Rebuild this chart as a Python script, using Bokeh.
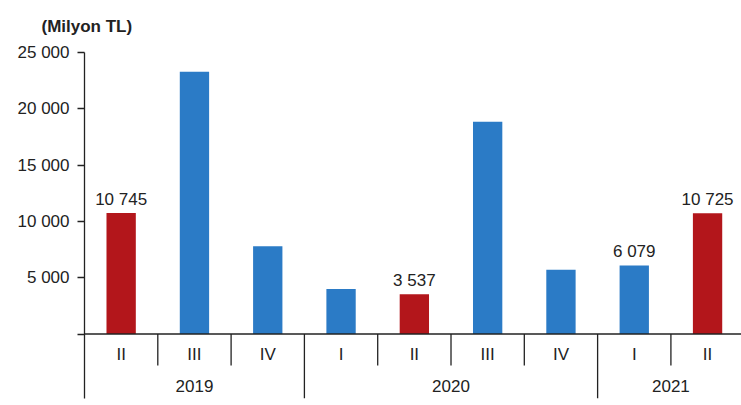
from bokeh.plotting import figure
from bokeh.models import Range1d, FixedTicker, ColumnDataSource
from bokeh.core.properties import value
from bokeh.embed import file_html
from bokeh.resources import INLINE

# ---- data ----
quarters = ["II", "III", "IV", "I", "II", "III", "IV", "I", "II"]
values = [10745, 23300, 7800, 4000, 3537, 18850, 5700, 6079, 10725]
labeled = [True, False, False, False, True, False, False, True, True]
years = ["2019", "2020", "2021"]
year_counts = [3, 4, 2]
y_ticks = [0, 5000, 10000, 15000, 20000, 25000]
y_tick_labels = ["", "5 000", "10 000", "15 000", "20 000", "25 000"]
unit_title = "(Milyon TL)"

BLUE = "#2B7BC6"
RED = "#B3161B"
DARK = "#222222"
FONT = "Liberation Sans"
FS = "17px"
Y_MIN = -5728
Y_MAX = 25000

n = len(quarters)
x_centers = [i + 0.5 for i in range(n)]
colors = [RED if q == "II" else BLUE for q in quarters]

p = figure(width=741, height=405, output_backend="svg", toolbar_location=None,
           x_range=Range1d(0, 8.963), y_range=Range1d(Y_MIN, Y_MAX),
           x_axis_location=None, min_border_left=84, min_border_right=0,
           min_border_top=52, min_border_bottom=7, title=unit_title)
p.title.text_font = FONT
p.title.text_font_size = FS
p.title.text_font_style = "bold"
p.title.text_color = DARK
p.title.align = "left"
p.title.vertical_align = "top"
p.title.offset = -43
p.title.standoff = 30
p.outline_line_color = None
p.xgrid.visible = False
p.ygrid.visible = False

ya = p.yaxis[0]
ya.ticker = FixedTicker(ticks=y_ticks)
ya.major_label_overrides = {t: l for t, l in zip(y_ticks, y_tick_labels)}
ya.axis_line_color = DARK
ya.axis_line_width = 1.3
ya.major_tick_line_color = DARK
ya.major_tick_line_width = 1.3
ya.major_tick_out = 7
ya.major_tick_in = 0
ya.minor_tick_line_color = None
ya.major_label_text_font = FONT
ya.major_label_text_font_size = FS
ya.major_label_text_color = DARK
ya.major_label_standoff = 8

src = ColumnDataSource(dict(x=x_centers, top=values, color=colors))
p.vbar(x="x", top="top", width=0.4, bottom=0, fill_color="color",
       line_color=None, source=src)

# value labels
lx = [x for x, f in zip(x_centers, labeled) if f]
lv = [v for v, f in zip(values, labeled) if f]
lt = [f"{v:,}".replace(",", " ") for v in lv]
p.text(x=lx, y=lv, text=lt, text_align="center", text_baseline="alphabetic",
       y_offset=-14, text_font=value(FONT), text_font_size=FS, text_color=DARK)

# category axis line
p.segment(x0=[0], y0=[0], x1=[n], y1=[0], line_color=DARK, line_width=1.3)

# separators
year_bounds = []
acc = 0
for c in year_counts:
    acc += c
    year_bounds.append(acc)
sep_x = list(range(1, n))
sep_bottom = [Y_MIN if k in year_bounds else -2798 for k in sep_x]
p.segment(x0=sep_x, y0=[0] * len(sep_x), x1=sep_x, y1=sep_bottom,
          line_color=DARK, line_width=1.3)

# quarter labels
p.text(x=x_centers, y=[0] * n, text=quarters, text_align="center",
       text_baseline="middle", y_offset=20, text_font=value(FONT),
       text_font_size=FS, text_color=DARK)

# year labels
starts = [0] + year_bounds[:-1]
yc = [(s + e) / 2 for s, e in zip(starts, year_bounds)]
p.text(x=yc, y=[0] * len(years), text=years, text_align="center",
       text_baseline="middle", y_offset=52, text_font=value(FONT),
       text_font_size=FS, text_color=DARK)

open("out.html", "w").write(file_html(p, INLINE))
